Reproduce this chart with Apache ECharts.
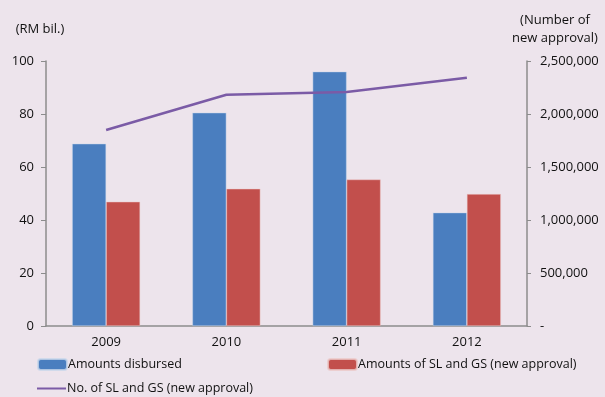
<!DOCTYPE html>
<html>
<head>
<meta charset="utf-8">
<script src="https://cdn.jsdelivr.net/npm/echarts@6/dist/echarts.min.js"></script>
<style>
  html, body { margin: 0; padding: 0; background: #ede4ec; }
  #chart { width: 605px; height: 397px; }
</style>
</head>
<body>
<div id="chart"></div>
<script>
const years = ['2009', '2010', '2011', '2012']
const disbursed = [68.8, 80.5, 96.0, 42.8]
const approvedAmount = [46.9, 51.8, 55.3, 49.8]
const approvedCount = [1849000, 2182000, 2208000, 2342000]

const font = '"Open Sans", sans-serif'
const axisColor = '#8c8c8c'
const legendText = { fontFamily: font, fontSize: 12.5, color: '#111', padding: [0, 0, 0, -4] }

const chart = echarts.init(document.getElementById('chart'))

chart.setOption({
  backgroundColor: '#ede4ec',
  animation: false,
  textStyle: { fontFamily: font },
  grid: { left: 46, right: 78, top: 61, bottom: 71 },
  legend: [
    {
      left: 37, top: 358, padding: 0, itemWidth: 29, itemHeight: 11,
      data: ['Amounts disbursed'],
      textStyle: legendText,
    },
    {
      left: 327, top: 358, padding: 0, itemWidth: 29, itemHeight: 11,
      data: ['Amounts of SL and GS (new approval)'],
      textStyle: legendText,
    },
    {
      left: 37, top: 382, padding: 0, itemWidth: 29, itemHeight: 11,
      data: [{ name: 'No. of SL and GS (new approval)', icon: 'path://M0,4.5 L29,4.5 L29,6.5 L0,6.5 Z' }],
      textStyle: legendText,
    },
  ],
  xAxis: {
    type: 'category',
    data: years,
    axisLine: { lineStyle: { color: axisColor, width: 1.5 } },
    axisTick: { show: false },
    axisLabel: { color: '#111', fontSize: 13, margin: 10 },
  },
  yAxis: [
    {
      type: 'value',
      min: 0, max: 100, interval: 20,
      name: '(RM bil.)',
      nameLocation: 'end',
      nameGap: 25,
      nameTextStyle: { color: '#111', fontSize: 13, align: 'center', padding: [0, 12, 0, 0] },
      axisLine: { show: true, lineStyle: { color: axisColor, width: 1.5 } },
      axisTick: { show: true, length: 5, lineStyle: { color: axisColor } },
      axisLabel: { color: '#111', fontSize: 13, margin: 12 },
      splitLine: { show: false },
    },
    {
      type: 'value',
      min: 0, max: 2500000, interval: 500000,
      name: '(Number of\nnew approval)',
      nameLocation: 'end',
      nameGap: 14,
      nameTextStyle: { color: '#111', fontSize: 13, align: 'center', lineHeight: 18, padding: [0, 0, 0, 56] },
      axisLine: { show: true, lineStyle: { color: axisColor, width: 1.5 } },
      axisTick: { show: true, length: 4, lineStyle: { color: axisColor } },
      axisLabel: {
        color: '#111', fontSize: 13, margin: 13,
        formatter: v => v === 0 ? '-' : v.toLocaleString('en-US'),
      },
      splitLine: { show: false },
    },
  ],
  series: [
    {
      name: 'Amounts disbursed',
      type: 'bar',
      data: disbursed,
      barWidth: 34,
      barGap: '0%',
      itemStyle: { color: '#4a7ebf', borderColor: 'rgba(200,215,235,0.8)', borderWidth: 0.6 },
    },
    {
      name: 'Amounts of SL and GS (new approval)',
      type: 'bar',
      data: approvedAmount,
      barWidth: 34,
      barGap: '0%',
      itemStyle: { color: '#c24f4c', borderColor: 'rgba(235,200,200,0.8)', borderWidth: 0.6 },
    },
    {
      name: 'No. of SL and GS (new approval)',
      type: 'line',
      yAxisIndex: 1,
      data: approvedCount,
      showSymbol: false,
      symbol: 'none',
      lineStyle: { color: '#7b5ba6', width: 2.5 },
      itemStyle: { color: '#7b5ba6' },
    },
  ],
})
</script>
</body>
</html>
